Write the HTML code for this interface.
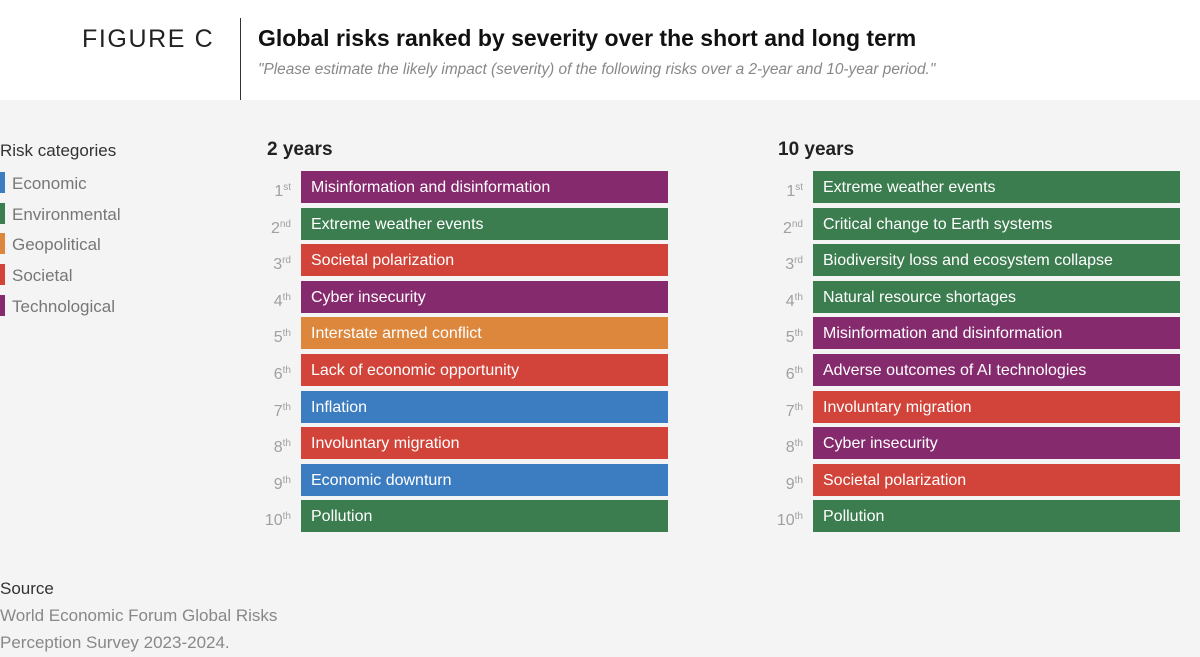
<!DOCTYPE html>
<html><head><meta charset="utf-8"><style>
body{margin:0;width:1200px;height:657px;overflow:hidden;background:#f4f4f4;font-family:"Liberation Sans",Arial,sans-serif;position:relative}
.hdr{position:absolute;left:0;top:0;width:1200px;height:100px;background:#fff}
.abs{position:absolute;white-space:nowrap}
.bar{position:absolute;height:32px;color:#fff;font-size:16px;line-height:34px;padding-left:10px;box-sizing:border-box}
.rank{position:absolute;width:40px;text-align:right;color:#a0a0a0;font-size:16px;line-height:34px}
.rank sup{font-size:10px;vertical-align:6px}
.leg{position:absolute;left:0;font-size:17px;color:#777}
.leg i{display:inline-block;width:5px;height:21px;vertical-align:-4px;margin-right:7px}
</style></head><body>
<div class="hdr"></div>
<div class="abs" style="left:82px;top:25px;font-size:25px;letter-spacing:1.6px;color:#222">FIGURE C</div>
<div class="abs" style="left:240px;top:18px;width:1px;height:82px;background:#333"></div>
<div class="abs" style="left:258px;top:25px;font-size:23px;font-weight:bold;color:#111">Global risks ranked by severity over the short and long term</div>
<div class="abs" style="left:258px;top:61px;font-size:15.4px;font-style:italic;color:#888">"Please estimate the likely impact (severity) of the following risks over a 2-year and 10-year period."</div>
<div class="abs" style="left:0;top:141px;font-size:17px;color:#333">Risk categories</div>
<div class="abs" style="left:267px;top:139px;font-size:19px;font-weight:bold;color:#222">2 years</div>
<div class="abs" style="left:778px;top:139px;font-size:19px;font-weight:bold;color:#222">10 years</div>
<div class="abs" style="left:0;top:579px;font-size:17px;color:#333">Source</div>
<div class="abs" style="left:0;top:602px;font-size:17px;color:#888;line-height:27px;white-space:normal;width:300px">World Economic Forum Global Risks Perception Survey 2023-2024.</div>
<div id="root"></div>
<script>
const categories=["Economic","Environmental","Geopolitical","Societal","Technological"];
const catColors=["#3c7cc0","#3b7d4f","#dd873d","#d2443a","#862a6e"];
const ranks=["1","2","3","4","5","6","7","8","9","10"];
const suffixes=["st","nd","rd","th","th","th","th","th","th","th"];
const risks2=["Misinformation and disinformation","Extreme weather events","Societal polarization","Cyber insecurity","Interstate armed conflict","Lack of economic opportunity","Inflation","Involuntary migration","Economic downturn","Pollution"];
const cats2=["Technological","Environmental","Societal","Technological","Geopolitical","Societal","Economic","Societal","Economic","Environmental"];
const risks10=["Extreme weather events","Critical change to Earth systems","Biodiversity loss and ecosystem collapse","Natural resource shortages","Misinformation and disinformation","Adverse outcomes of AI technologies","Involuntary migration","Cyber insecurity","Societal polarization","Pollution"];
const cats10=["Environmental","Environmental","Environmental","Environmental","Technological","Technological","Societal","Technological","Societal","Environmental"];
const root=document.getElementById('root');
categories.forEach((c,i)=>{
  const d=document.createElement('div');d.className='leg';d.style.top=(172+i*30.7)+'px';
  
  
  d.innerHTML='<i style="background:'+catColors[i]+'"></i>'+c;root.appendChild(d);
});
function panel(risks,cats,x0,key){
  risks.forEach((r,i)=>{
    const y=171+i*36.6;
    const rk=document.createElement('div');rk.className='rank';rk.style.left=(x0-50)+'px';rk.style.top=y+'px';
    
    
    rk.innerHTML=ranks[i]+'<sup>'+suffixes[i]+'</sup>';root.appendChild(rk);
    const b=document.createElement('div');b.className='bar';b.style.left=x0+'px';b.style.top=y+'px';b.style.width='367px';
    b.style.background=catColors[categories.indexOf(cats[i])];
    
    
    b.textContent=r;root.appendChild(b);
  });
}
panel(risks2,cats2,301,'two-year');
panel(risks10,cats10,813,'ten-year');
</script>
</body></html>
